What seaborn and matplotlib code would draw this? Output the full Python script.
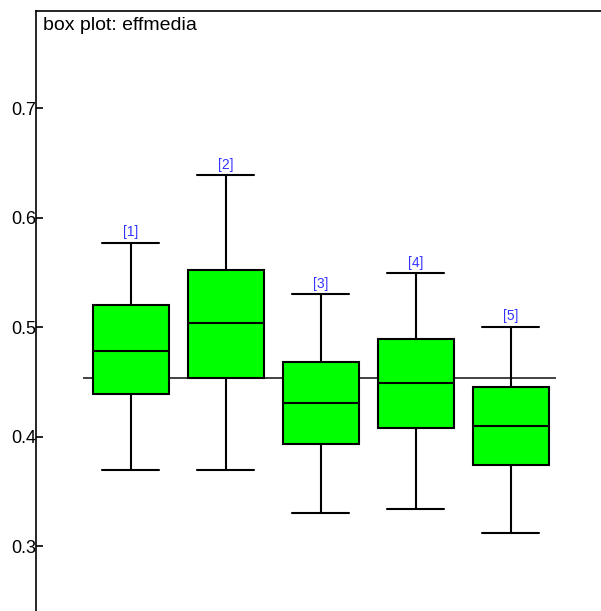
import numpy as np
import pandas as pd
import matplotlib
matplotlib.use("Agg")
import matplotlib.pyplot as plt
import seaborn as sns

# five-number summaries (low whisker, Q1, median, Q3, high whisker)
groups = ["[1]", "[2]", "[3]", "[4]", "[5]"]
lo = [0.3694, 0.3694, 0.3305, 0.3338, 0.3125]
q1 = [0.4392, 0.4538, 0.3938, 0.4081, 0.3743]
med = [0.4784, 0.5043, 0.4310, 0.4489, 0.4102]
q3 = [0.5205, 0.5527, 0.4680, 0.4894, 0.4458]
hi = [0.5774, 0.6394, 0.5305, 0.5497, 0.5006]
grand_mean = 0.454

rows = []
for i, g in enumerate(groups):
    for v in (lo[i], q1[i], med[i], q3[i], hi[i]):
        rows.append({"group": g, "effmedia": v})
df = pd.DataFrame(rows)

sns.set_style("white")
plt.rcParams["font.family"] = ["Liberation Sans", "DejaVu Sans"]
plt.rcParams["text.color"] = "black"
plt.rcParams["ytick.color"] = "black"
plt.rcParams["ytick.labelcolor"] = "black"

fig = plt.figure(figsize=(6.01, 6.11), dpi=100)
ax = fig.add_axes([36 / 601, 0, 565 / 601, 600 / 611])

ax.hlines(grand_mean, -0.5, 4.48, color="#222222", lw=1.2, zorder=0)

sns.boxplot(data=df, x="group", y="effmedia", order=groups, ax=ax,
            color="#00ff00", saturation=1, width=0.8, whis=np.inf,
            linecolor="black", linewidth=1.5, fliersize=0, capwidths=0.6)

for i, g in enumerate(groups):
    ax.text(i, hi[i] + 0.003, g, color="#3333ff", fontsize=10,
            ha="center", va="bottom")

ax.set_xlim(-1.0, 4.95)
ax.set_ylim(0.241, 0.789)
ax.set_yticks([0.3, 0.4, 0.5, 0.6, 0.7])
ax.set_yticklabels(["0.3", "0.4", "0.5", "0.6", "0.7"])
ax.set_xticks([])
ax.set_xlabel("")
ax.set_ylabel("")
ax.tick_params(axis="y", direction="in", length=5, width=1.2, pad=0,
               labelsize=13, left=True, colors="black")
for s in ("right", "bottom"):
    ax.spines[s].set_visible(False)
for s in ("left", "top"):
    ax.spines[s].set_color("black")
    ax.spines[s].set_linewidth(1.2)

ax.text(0.013, 0.99, "box plot: effmedia", transform=ax.transAxes,
        fontsize=14, ha="left", va="top", color="black")

fig.savefig("out.png", dpi=100)
